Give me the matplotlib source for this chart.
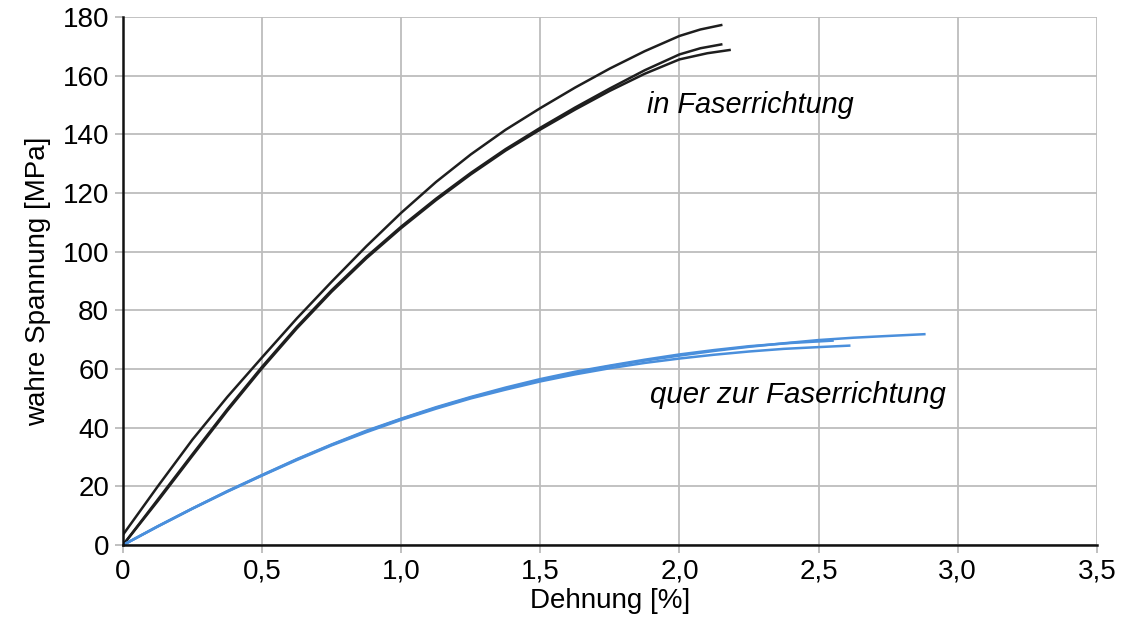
# Zugversuch: wahre Spannung ueber Dehnung, in / quer zur Faserrichtung

import matplotlib
matplotlib.use("Agg")
import matplotlib.pyplot as plt

plt.rcParams['font.family'] = ['Liberation Sans', 'DejaVu Sans']

# in Faserrichtung (drei Proben)
in_x1 = [0.0, 0.125, 0.25, 0.375, 0.5, 0.625, 0.75, 0.875, 1.0, 1.125, 1.25,
         1.375, 1.5, 1.625, 1.75, 1.875, 2.0, 2.075, 2.15]
in_y1 = [3.5, 20.0, 36.0, 50.5, 64.0, 77.3, 89.8, 101.9, 113.3, 123.8, 133.2,
         141.6, 149.0, 156.0, 162.5, 168.4, 173.6, 175.8, 177.3]
in_x2 = [0.0, 0.125, 0.25, 0.375, 0.5, 0.625, 0.75, 0.875, 1.0, 1.125, 1.25,
         1.375, 1.5, 1.625, 1.75, 1.875, 2.0, 2.075, 2.15]
in_y2 = [0.0, 15.5, 31.0, 46.3, 60.8, 74.4, 86.9, 98.3, 108.6, 118.1, 126.9,
         135.0, 142.3, 149.2, 155.7, 161.9, 167.3, 169.4, 170.7]
in_x3 = [0.0, 0.125, 0.25, 0.375, 0.5, 0.625, 0.75, 0.875, 1.0, 1.125, 1.25,
         1.375, 1.5, 1.625, 1.75, 1.875, 2.0, 2.1, 2.18]
in_y3 = [0.0, 15.0, 30.5, 45.8, 60.3, 73.9, 86.4, 97.8, 108.1, 117.6, 126.4,
         134.5, 141.7, 148.5, 154.9, 160.7, 165.6, 167.7, 168.8]

# quer zur Faserrichtung (drei Proben)
qu_x1 = [0.0, 0.125, 0.25, 0.375, 0.5, 0.625, 0.75, 0.875, 1.0, 1.125, 1.25,
         1.375, 1.5, 1.625, 1.75, 1.875, 2.0, 2.125, 2.25, 2.375, 2.5, 2.625,
         2.75, 2.88]
qu_y1 = [0.0, 6.4, 12.5, 18.3, 23.8, 29.2, 34.2, 38.8, 43.0, 46.8, 50.3,
         53.4, 56.3, 58.8, 61.0, 62.9, 64.6, 66.2, 67.6, 68.8, 69.9, 70.7,
         71.3, 71.9]
qu_x2 = [0.0, 0.125, 0.25, 0.375, 0.5, 0.625, 0.75, 0.875, 1.0, 1.125, 1.25,
         1.375, 1.5, 1.625, 1.75, 1.875, 2.0, 2.125, 2.25, 2.375, 2.5, 2.61]
qu_y2 = [0.0, 6.3, 12.4, 18.2, 23.7, 29.0, 34.0, 38.5, 42.7, 46.5, 50.0,
         53.0, 55.8, 58.2, 60.3, 62.1, 63.6, 64.9, 66.0, 66.9, 67.5, 68.0]
qu_x3 = [0.0, 0.125, 0.25, 0.375, 0.5, 0.625, 0.75, 0.875, 1.0, 1.125, 1.25,
         1.375, 1.5, 1.625, 1.75, 1.875, 2.0, 2.125, 2.25, 2.4, 2.55]
qu_y3 = [0.0, 6.4, 12.5, 18.4, 23.9, 29.3, 34.3, 39.0, 43.1, 47.0, 50.5,
         53.7, 56.6, 59.1, 61.2, 63.2, 65.0, 66.5, 67.8, 68.9, 69.7]

xticks = [0.0, 0.5, 1.0, 1.5, 2.0, 2.5, 3.0, 3.5]
xlabels = ['0', '0,5', '1,0', '1,5', '2,0', '2,5', '3,0', '3,5']
yticks = [0, 20, 40, 60, 80, 100, 120, 140, 160, 180]

schwarz = '#1e1e1e'
blau = '#4a8fdc'

fig = plt.figure(figsize=(11.22, 6.36), dpi=100, facecolor='w')
ax = fig.add_axes([0.1096, 0.143, 0.868, 0.830])

ax.plot(in_x1, in_y1, color=schwarz, lw=1.8)
ax.plot(in_x2, in_y2, color=schwarz, lw=1.8)
ax.plot(in_x3, in_y3, color=schwarz, lw=1.8)
ax.plot(qu_x1, qu_y1, color=blau, lw=1.8)
ax.plot(qu_x2, qu_y2, color=blau, lw=1.8)
ax.plot(qu_x3, qu_y3, color=blau, lw=1.8)

ax.text(1.885, 150, 'in Faserrichtung', style='italic', fontsize=20.8,
        va='center', ha='left')
ax.text(1.893, 51, 'quer zur Faserrichtung', style='italic', fontsize=21.2,
        va='center', ha='left')

ax.set_xlim(0, 3.5)
ax.set_ylim(0, 180)
ax.set_xticks(xticks)
ax.set_xticklabels(xlabels)
ax.set_yticks(yticks)
ax.tick_params(labelsize=20, length=6, width=1.2, color='#b5b5b5', pad=4)
ax.grid(True, color='#bdbdbd', lw=1.3)
ax.set_axisbelow(True)

for s in ['top', 'right']:
    ax.spines[s].set_visible(False)
for s in ['left', 'bottom']:
    ax.spines[s].set_linewidth(1.8)
    ax.spines[s].set_color('#111111')

ax.set_xlabel('Dehnung [%]', fontsize=20, labelpad=2)
ax.set_ylabel('wahre Spannung [MPa]', fontsize=20, labelpad=8)

fig.savefig('out.png', dpi=100)
